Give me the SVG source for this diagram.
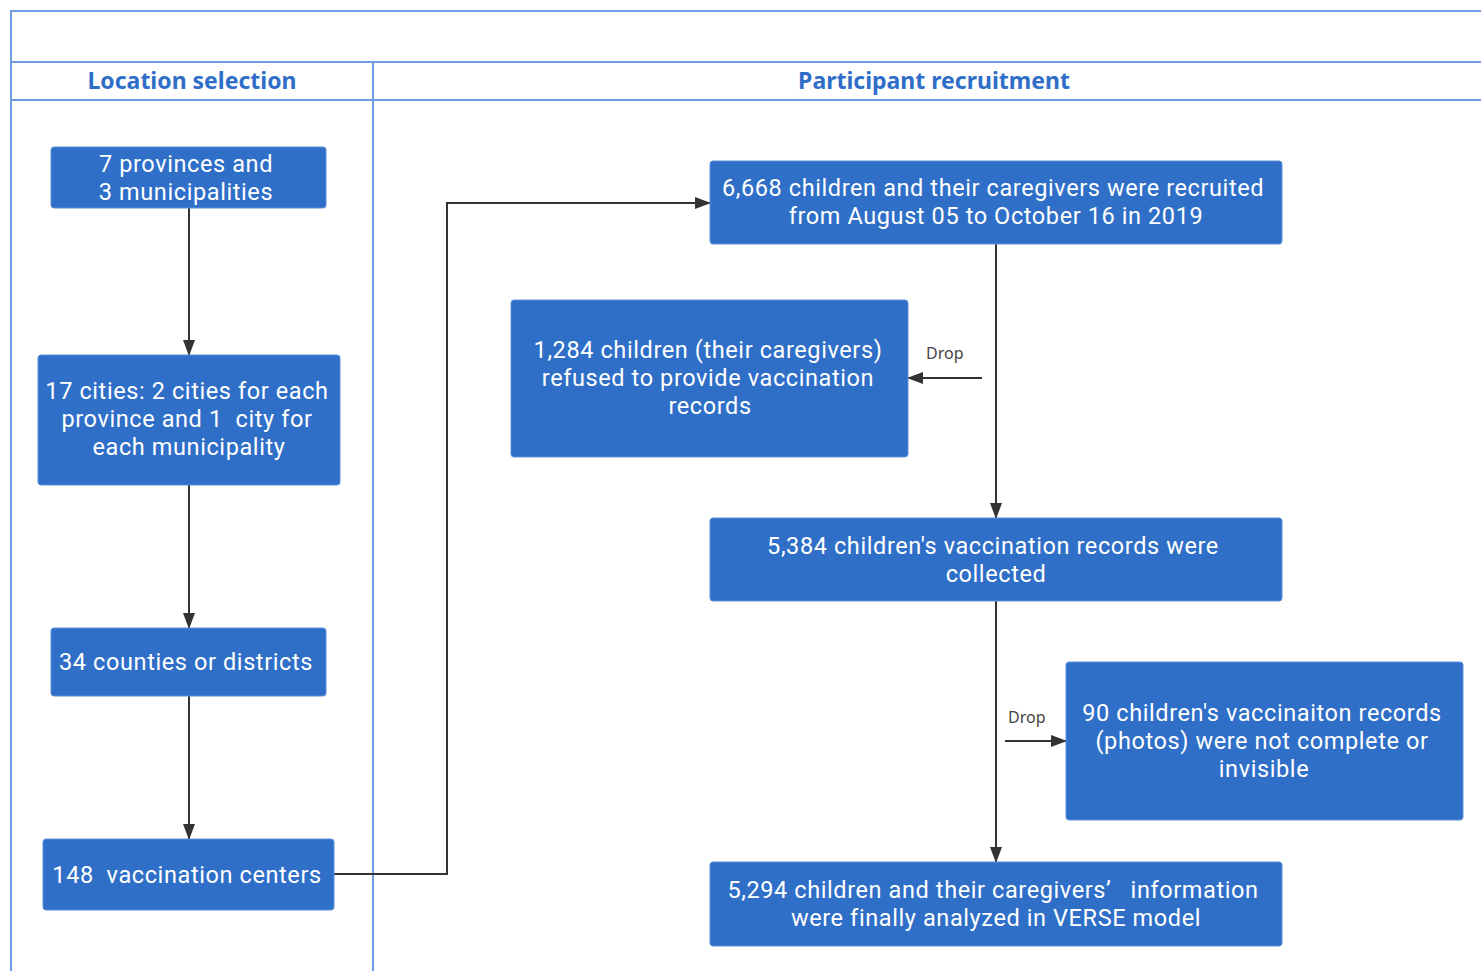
<svg xmlns="http://www.w3.org/2000/svg" width="1481" height="971" viewBox="0 0 1481 971">
<style>
.lane{fill:none;stroke:#6f9be0;stroke-width:2}
.hdr{font-family:"Noto Sans","Open Sans",sans-serif;font-weight:bold;font-size:23px;fill:#2f6ec8;text-anchor:middle}
.box{fill:#2f6fc8;stroke:#5f8fd8;stroke-width:1}
.t{font-family:Roboto,"Noto Sans",sans-serif;font-size:23.5px;letter-spacing:0.6px;fill:#ffffff;text-anchor:middle;white-space:pre}
.c{fill:none;stroke:#333333;stroke-width:2}
.lbl{font-family:"Noto Sans","Open Sans",sans-serif;font-size:16px;fill:#444444}
</style>
<defs>
<marker id="ah2" markerWidth="16" markerHeight="12" refX="15" refY="6" orient="auto" markerUnits="userSpaceOnUse" viewBox="0 0 16 12">
<path d="M0,0 L16,6 L0,12 Z" fill="#333333"/>
</marker>
</defs>
<rect width="1481" height="971" fill="#ffffff"/>
<g id="lanes">
<path class="lane" d="M11,975 L11,11 L1485,11"/>
<path class="lane" d="M11,62 L1485,62"/>
<path class="lane" d="M11,100 L1485,100"/>
<path class="lane" d="M373,62 L373,975"/>
<text class="hdr" x="192" y="89">Location selection</text>
<text class="hdr" x="934" y="89">Participant recruitment</text>
</g>
<g id="connectors">
<path class="c" d="M189,208 L189,355" marker-end="url(#ah2)"/>
<path class="c" d="M189,485 L189,628" marker-end="url(#ah2)"/>
<path class="c" d="M189,696 L189,839" marker-end="url(#ah2)"/>
<path class="c" d="M334,874 L447,874 L447,203 L710,203" marker-end="url(#ah2)"/>
<path class="c" d="M996,244 L996,518" marker-end="url(#ah2)"/>
<path class="c" d="M982,378 L908,378" marker-end="url(#ah2)"/>
<text class="lbl" x="926" y="359">Drop</text>
<path class="c" d="M996,601 L996,862" marker-end="url(#ah2)"/>
<path class="c" d="M1005,741 L1066,741" marker-end="url(#ah2)"/>
<text class="lbl" x="1008" y="723">Drop</text>
</g>
<g id="n1"><rect class="box" x="51" y="147" width="275" height="61" rx="3"/>
<text class="t" x="186" y="172">7 provinces and</text><text class="t" x="186" y="200">3 municipalities</text></g>
<g id="n2"><rect class="box" x="38" y="355" width="302" height="130" rx="3"/>
<text class="t" x="187" y="399">17 cities: 2 cities for each</text><text class="t" x="187" y="427">province and 1  city for</text><text class="t" x="189" y="455">each municipality</text></g>
<g id="n3"><rect class="box" x="51" y="628" width="275" height="68" rx="3"/>
<text class="t" x="186" y="670">34 counties or districts</text></g>
<g id="n4"><rect class="box" x="43" y="839" width="291" height="71" rx="3"/>
<text class="t" x="187" y="883">148  vaccination centers</text></g>
<g id="n5"><rect class="box" x="710" y="161" width="572" height="83" rx="3"/>
<text class="t" x="993" y="196">6,668 children and their caregivers were recruited</text><text class="t" x="996" y="224">from August 05 to October 16 in 2019</text></g>
<g id="n6"><rect class="box" x="511" y="300" width="397" height="157" rx="3"/>
<text class="t" x="708" y="358">1,284 children (their caregivers)</text><text class="t" x="708" y="386">refused to provide vaccination</text><text class="t" x="710" y="414">records</text></g>
<g id="n7"><rect class="box" x="710" y="518" width="572" height="83" rx="3"/>
<text class="t" x="993" y="554">5,384 children's vaccination records were</text><text class="t" x="996" y="582">collected</text></g>
<g id="n8"><rect class="box" x="1066" y="662" width="397" height="158" rx="3"/>
<text class="t" x="1262" y="721">90 children's vaccinaiton records</text><text class="t" x="1262" y="749">(photos) were not complete or</text><text class="t" x="1264" y="777">invisible</text></g>
<g id="n9"><rect class="box" x="710" y="862" width="572" height="84" rx="3"/>
<text class="t" x="993" y="898">5,294 children and their caregivers’   information</text><text class="t" x="996" y="926">were finally analyzed in VERSE model</text></g>
</svg>
